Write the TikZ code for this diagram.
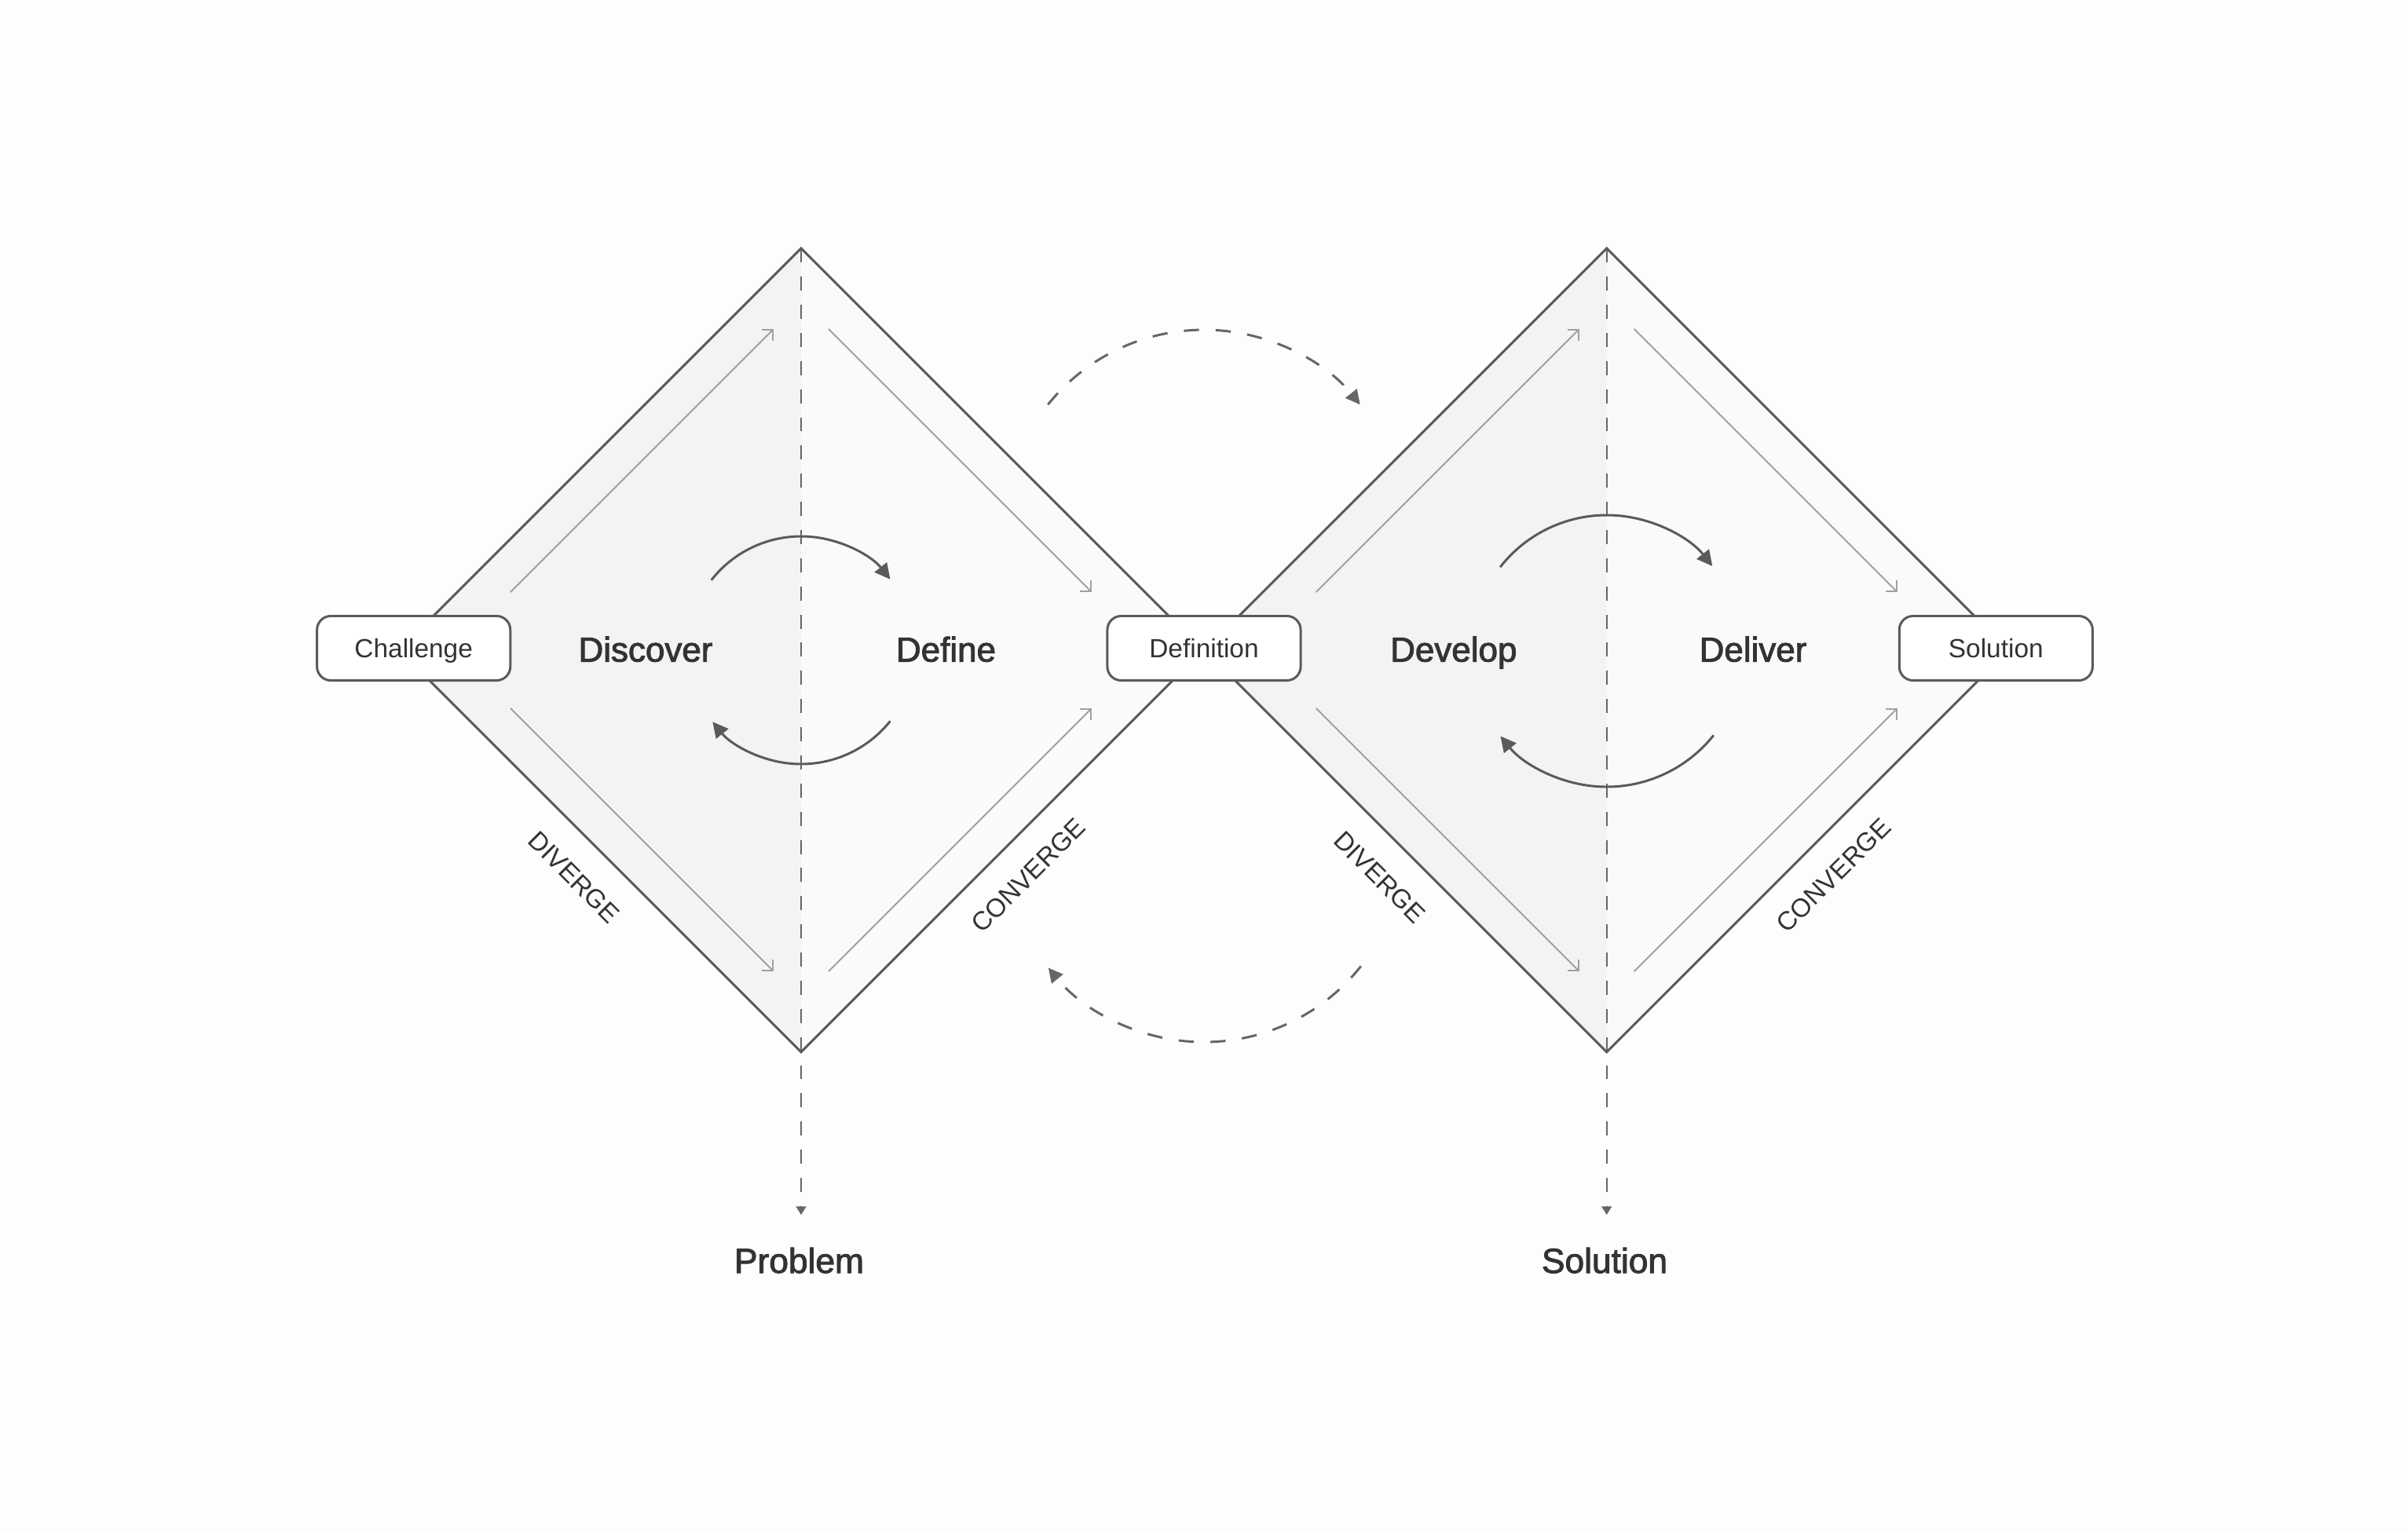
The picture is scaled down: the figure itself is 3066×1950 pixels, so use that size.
\documentclass[tikz,border=0pt]{standalone}
\usepackage{fontspec}
\setmainfont{Liberation Sans}
\newfontfamily\medfont[FakeBold=2.2]{Liberation Sans}
\usetikzlibrary{arrows.meta}
\definecolor{bgc}{HTML}{FDFDFD}
\definecolor{edgec}{HTML}{5A5A5A}
\definecolor{fillL}{HTML}{F3F3F3}
\definecolor{fillR}{HTML}{FAFAFA}
\definecolor{thinc}{HTML}{A0A0A0}
\definecolor{txtc}{HTML}{333333}
\definecolor{dashc}{HTML}{666666}
\tikzset{
  outline/.style={draw=edgec, line width=0.85pt, line join=miter},
  boxnode/.style={draw=edgec, line width=0.85pt, fill=white, rounded corners=5pt,
    minimum width=2.46cm, minimum height=0.82cm, inner sep=0pt,
    text height=7pt, text depth=-1.2pt, font=\fontsize{9.5}{11}\selectfont, text=txtc},
  phase/.style={anchor=base, font=\medfont\fontsize{12.5}{14}\selectfont, text=txtc},
  endlabel/.style={anchor=base, font=\medfont\fontsize{12.6}{14}\selectfont, text=txtc},
  sidelabel/.style={font=\fontsize{9.4}{11}\selectfont, text=txtc, inner sep=0pt},
  thinarrow/.style={draw=thinc, line width=0.55pt, -{Straight Barb[length=2.8pt,width=5.6pt]}},
  cyclearrow/.style={draw=edgec, line width=0.85pt, -{Triangle[length=5.6pt,width=5.6pt]}},
  loopdash/.style={draw=dashc, line width=0.85pt, dash pattern=on 5.5pt off 6pt, -{Triangle[length=5.2pt,width=5.2pt]}},
  axisdash/.style={draw=dashc, line width=0.55pt, dash pattern=on 5.1pt off 5.1pt, -{Triangle[length=3pt,width=3.6pt]}},
}
\begin{document}
\begin{tikzpicture}[x=0.01cm,y=0.01cm]
\fill[bgc] (0,0) rectangle (3066,-1950);
\useasboundingbox (0,0) rectangle (3066,-1950);

% diamond centres
\coordinate (c1) at (1020,-828);
\coordinate (c2) at (2045.7,-828);

% ---------- diamond 1 ----------
\begin{scope}[shift={(c1)}]
  \coordinate (t1) at (0,511.7);
  \coordinate (b1) at (0,-511.7);
  \coordinate (l1) at (-511.7,0);
  \coordinate (r1) at (511.7,0);
  \coordinate (e1) at (0,-719);
  \fill[fillL] (t1) -- (l1) -- (b1) -- cycle;
  \fill[fillR] (t1) -- (r1) -- (b1) -- cycle;
  \draw[axisdash] (t1) -- (e1);
  \draw[outline] (t1) -- (r1) -- (b1) -- (l1) -- cycle;
  \draw[thinarrow] (-370,74) -- (-35,409);
  \draw[thinarrow] (35,409) -- (370,74);
  \draw[thinarrow] (-370,-74) -- (-35,-409);
  \draw[thinarrow] (35,-409) -- (370,-74);
  \draw[cyclearrow] (142:145) arc[start angle=142, end angle=38.5, radius=145];
  \draw[cyclearrow] (-38.5:145) arc[start angle=-38.5, end angle=-141, radius=145];
  \node[sidelabel, rotate=-45] (div1) at (-289,-289) {DIVERGE};
  \node[sidelabel, rotate=45] (conv1) at (289,-287) {CONVERGE};
\end{scope}

% ---------- diamond 2 ----------
\begin{scope}[shift={(c2)}]
  \coordinate (t2) at (0,511.7);
  \coordinate (b2) at (0,-511.7);
  \coordinate (l2) at (-511.7,0);
  \coordinate (r2) at (511.7,0);
  \coordinate (e2) at (0,-719);
  \fill[fillL] (t2) -- (l2) -- (b2) -- cycle;
  \fill[fillR] (t2) -- (r2) -- (b2) -- cycle;
  \draw[axisdash] (t2) -- (e2);
  \draw[outline] (t2) -- (r2) -- (b2) -- (l2) -- cycle;
  \draw[thinarrow] (-370,74) -- (-35,409);
  \draw[thinarrow] (35,409) -- (370,74);
  \draw[thinarrow] (-370,-74) -- (-35,-409);
  \draw[thinarrow] (35,-409) -- (370,-74);
  \draw[cyclearrow] (142:172) arc[start angle=142, end angle=38.5, radius=172];
  \draw[cyclearrow] (-38.5:174) arc[start angle=-38.5, end angle=-141, radius=174];
  \node[sidelabel, rotate=-45] (div2) at (-289,-289) {DIVERGE};
  \node[sidelabel, rotate=45] (conv2) at (289,-287) {CONVERGE};
\end{scope}

% ---------- loop arrows between diamonds ----------
\coordinate (loopT) at (1533,-675);
\coordinate (loopB) at (1533,-1072);
\draw[loopdash] (loopT) ++(141.2:255) arc[start angle=141.2, end angle=38.8, radius=255];
\draw[loopdash] (loopB) ++(-38.4:255) arc[start angle=-38.4, end angle=-141, radius=255];

% ---------- boxes ----------
\node[boxnode] (challenge) at (526.7,-825.5) {Challenge};
\node[boxnode] (definition) at (1533,-825.5) {Definition};
\node[boxnode] (solutionbox) at (2541.3,-825.5) {Solution};

% ---------- phase labels ----------
\node[phase] (discover) at (822,-842.5) {Discover};
\node[phase] (define) at (1204.5,-842.5) {Define};
\node[phase] (develop) at (1850.8,-842.5) {Develop};
\node[phase] (deliver) at (2232,-842.5) {Deliver};

% ---------- bottom labels ----------
\node[endlabel] (problem) at (1017.5,-1621) {Problem};
\node[endlabel] (solutionlabel) at (2043,-1621) {Solution};
\end{tikzpicture}
\end{document}
